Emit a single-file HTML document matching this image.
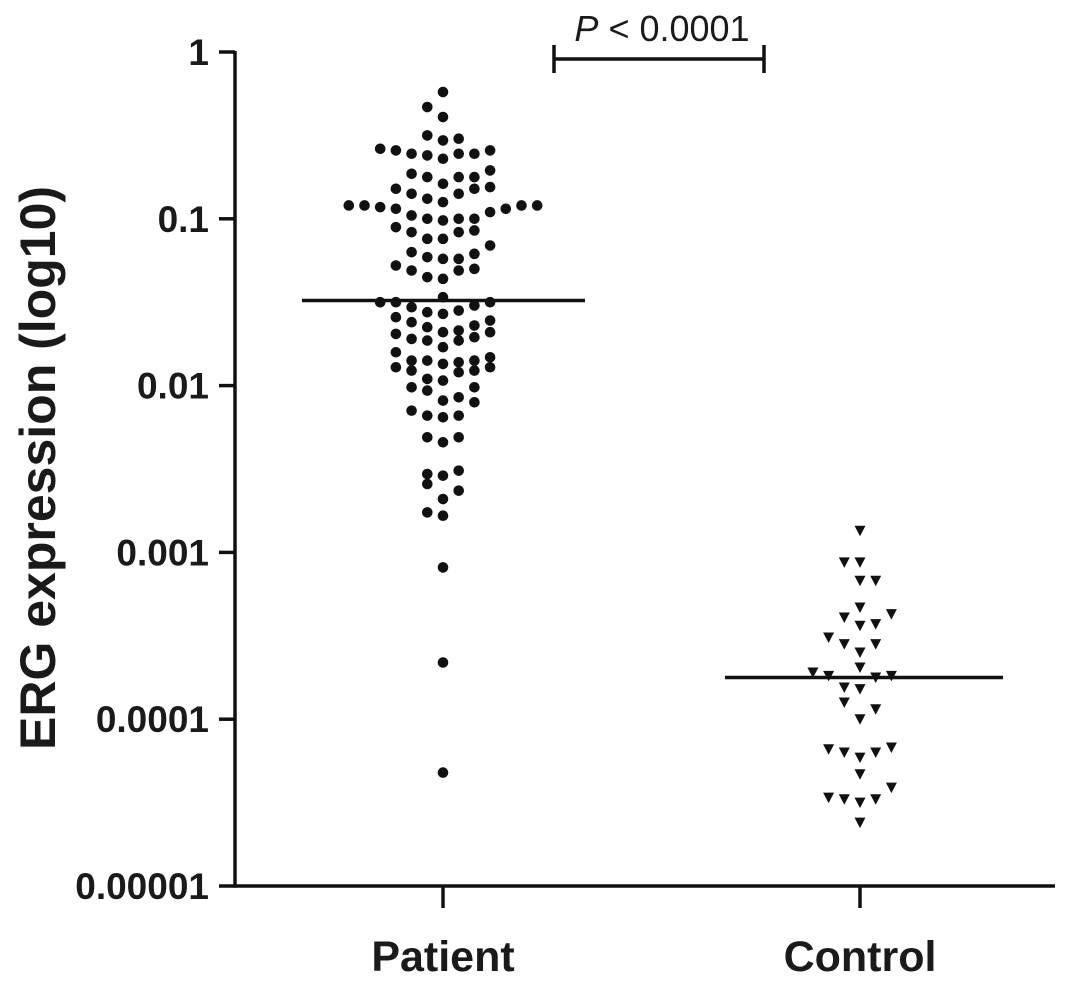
<!DOCTYPE html>
<html><head><meta charset="utf-8"><style>
html,body{margin:0;padding:0;background:#fff;}
svg{display:block;font-family:"Liberation Sans",Arial,sans-serif;}
</style></head><body>
<svg id="chart" width="1087" height="983" viewBox="0 0 1087 983" xmlns="http://www.w3.org/2000/svg"></svg>
<script>
// log10 values of ERG expression and swarm slot (column index) for each point
const patientLog = [-0.24,-0.33,-0.39,-0.50,-0.53,-0.52,-0.58,-0.59,-0.61,-0.62,-0.64,-0.61,-0.61,-0.59,-0.73,-0.75,-0.79,-0.75,-0.75,-0.71,-0.82,-0.85,-0.88,-0.90,-0.85,-0.82,-0.81,-0.92,-0.92,-0.93,-0.94,-0.96,-0.94,-0.92,-0.92,-0.98,-1.00,-1.01,-1.00,-1.00,-1.05,-1.08,-1.12,-1.12,-1.08,-1.07,-1.16,-1.20,-1.23,-1.24,-1.24,-1.21,-1.28,-1.31,-1.35,-1.36,-1.31,-1.30,-1.50,-1.50,-1.53,-1.47,-1.52,-1.50,-1.59,-1.62,-1.56,-1.57,-1.55,-1.64,-1.61,-1.69,-1.72,-1.65,-1.73,-1.68,-1.67,-1.73,-1.71,-1.68,-1.80,-1.89,-1.85,-1.91,-1.85,-1.77,-1.87,-1.86,-1.92,-1.85,-1.91,-1.83,-1.89,-2.01,-1.96,-2.03,-1.97,-2.01,-2.09,-2.07,-2.10,-2.15,-2.18,-2.19,-2.18,-2.31,-2.34,-2.31,-2.53,-2.59,-2.54,-2.51,-2.63,-2.68,-2.76,-2.78,-3.09,-3.66,-4.32];
const patientSlot = [0,-1,0,-1,0,1,-4,-3,-2,-1,0,1,2,3,-2,-1,0,1,2,3,-3,-2,-1,0,1,2,3,-6,-5,-4,-3,3,4,5,6,-2,-1,0,1,2,-3,-2,-1,0,1,2,3,-2,-1,0,1,2,-3,-2,-1,0,1,2,-4,-3,-2,0,2,3,-3,-2,-1,0,1,2,3,-3,-2,-1,-1,0,1,1,2,3,-3,-3,-2,-2,-1,0,0,1,1,2,2,3,3,-2,-1,-1,0,2,0,1,2,-2,-1,0,1,-1,0,1,-1,-1,0,1,1,0,-1,0,0,0,0];
const controlLog = [-2.87,-3.06,-3.06,-3.17,-3.17,-3.33,-3.37,-3.39,-3.44,-3.43,-3.51,-3.55,-3.55,-3.60,-3.69,-3.72,-3.74,-3.75,-3.74,-3.81,-3.82,-3.90,-3.94,-4.00,-4.18,-4.20,-4.23,-4.20,-4.17,-4.33,-4.47,-4.48,-4.50,-4.48,-4.41,-4.62];
const controlSlot = [0,-1,0,0,1,0,2,-1,0,1,-2,-1,1,0,0,-3,-2,1,2,-1,0,-1,1,0,-2,-1,0,1,2,0,-2,-1,0,1,2,0];
const categories = ["Patient","Control"];
const medianLog = [-1.49,-3.75];
const tickLabels = ["1","0.1","0.01","0.001","0.0001","0.00001"];
const tickLog = [0,-1,-2,-3,-4,-5];
const pLabel = "< 0.0001";

const NS="http://www.w3.org/2000/svg";
const svg=document.getElementById('chart');
const y0=52, y1=886, xAxis=235, xEnd=1055;
const catX=[443,860], slotW=15.7;
function yScale(l){return y0+(0-l)/5*(y1-y0);}
function xScale(i,slot){return catX[i]+slot*slotW;}
function mk(tag,attrs){const e=document.createElementNS(NS,tag);for(const k in attrs)e.setAttribute(k,attrs[k]);svg.appendChild(e);return e;}

// axes
let ya=mk('line',{x1:xAxis,y1:y0-1,x2:xAxis,y2:y1+1.5,stroke:'#111','stroke-width':3.5});


let xa=mk('line',{x1:xAxis-1.5,y1:y1,x2:xEnd,y2:y1,stroke:'#111','stroke-width':3.5});



tickLog.forEach((l,i)=>{
  const y=yScale(l);
  const t=mk('line',{x1:xAxis-16,y1:y,x2:xAxis,y2:y,stroke:'#111','stroke-width':3.5});
  
  
  const tx=mk('text',{x:xAxis-26,y:y+13,'text-anchor':'end','font-size':37,'font-weight':'bold',fill:'#1a1a1a'});
  tx.textContent=tickLabels[i];
  
  
});
categories.forEach((c,i)=>{
  const t=mk('line',{x1:catX[i],y1:y1,x2:catX[i],y2:y1+22,stroke:'#111','stroke-width':3.5});
  
  
  const tx=mk('text',{x:catX[i],y:971,'text-anchor':'middle','font-size':43,'font-weight':'bold',fill:'#1a1a1a'});
  tx.textContent=c;
  
  
});
const yt=mk('text',{x:0,y:0,transform:'translate(55,468) rotate(-90)','text-anchor':'middle','font-size':50,'font-weight':'bold',fill:'#1a1a1a'});
yt.textContent='ERG expression (log10)';



// patient points
patientLog.forEach((l,i)=>{
  const c=mk('circle',{cx:xScale(0,patientSlot[i]),cy:yScale(l),r:5.3,fill:'#111'});
  
  
});
// control points
controlLog.forEach((l,i)=>{
  const x=xScale(1,controlSlot[i]), y=yScale(l);
  const p=mk('polygon',{points:`${x-5.5},${y-5} ${x+5.5},${y-5} ${x},${y+5.5}`,fill:'#111'});
  
  
});
// medians
const mw=[[302,585],[725,1003]];
medianLog.forEach((l,i)=>{
  const m=mk('line',{x1:mw[i][0],y1:yScale(l),x2:mw[i][1],y2:yScale(l),stroke:'#111','stroke-width':3.5});
  
  
});
// significance bracket
const b=mk('path',{d:'M554,45 V73 M554,59 H764 M764,45 V73',stroke:'#111','stroke-width':3.5,fill:'none'});


const pt=mk('text',{x:662,y:41,'text-anchor':'middle','font-size':36,fill:'#1a1a1a'});
pt.innerHTML='<tspan font-style="italic">P</tspan> '+pLabel;


</script>
</body></html>
